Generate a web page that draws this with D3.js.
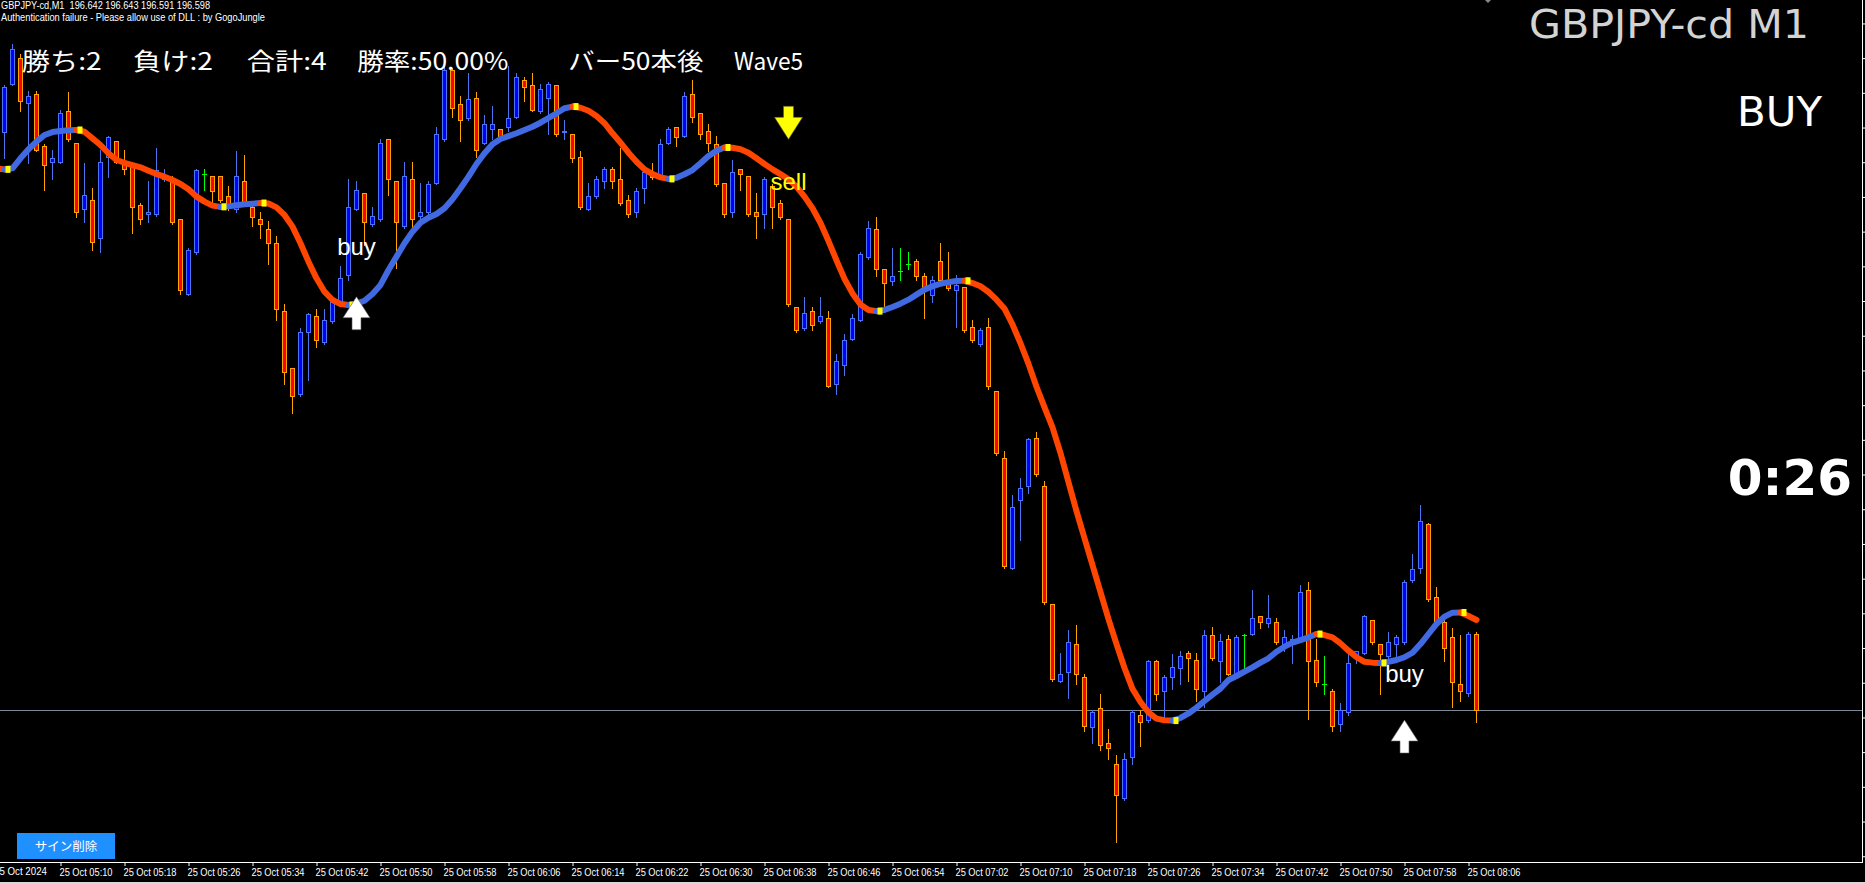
<!DOCTYPE html>
<html><head><meta charset="utf-8">
<script src="https://cdn.jsdelivr.net/npm/d3@7"></script>
<style>
html,body{margin:0;padding:0;background:#000;overflow:hidden;}
svg{display:block;}
</style></head><body>
<svg id="c" width="1865" height="884"></svg>
<script>
// ---------------- DATA ----------------
const symbol = "GBPJPY-cd";
const period = "M1";
const firstBarTime = "05:03";
const dateLabel = "25 Oct 2024";

const open = [196.931,196.959,196.974,196.948,196.953,196.923,196.914,196.914,196.943,196.925,
196.887,196.892,196.870,196.917,196.926,196.913,196.912,196.889,196.884,196.884,
196.904,196.904,196.881,196.838,196.862,196.907,196.906,196.906,196.894,196.887,
196.903,196.888,196.881,196.875,196.867,196.828,196.795,196.780,196.816,196.825,
196.810,196.822,196.834,196.849,196.887,196.896,196.878,196.881,196.927,196.903,
196.877,196.904,196.883,196.885,196.902,196.927,196.967,196.947,196.939,196.951,
196.925,196.933,196.933,196.934,196.940,196.961,196.958,196.943,196.951,196.958,
196.931,196.930,196.917,196.887,196.894,196.903,196.910,196.904,196.892,196.885,
196.899,196.908,196.905,196.925,196.934,196.929,196.953,196.942,196.932,196.924,
196.902,196.885,196.910,196.906,196.885,196.884,196.900,196.890,196.881,196.830,
196.818,196.828,196.822,196.824,196.786,196.797,196.812,196.823,196.859,196.875,
196.852,196.845,196.851,196.855,196.857,196.848,196.837,196.857,196.845,196.840,
196.842,196.819,196.809,196.819,196.782,196.743,196.680,196.719,196.727,196.755,
196.727,196.659,196.615,196.620,196.636,196.617,196.588,196.599,196.579,196.567,
196.547,196.571,196.595,196.592,196.626,196.609,196.617,196.622,196.631,196.627,
196.609,196.641,196.626,196.639,196.619,196.641,196.642,196.652,196.648,196.649,
196.636,196.638,196.639,196.667,196.627,196.613,196.609,196.590,196.597,196.629,
196.631,196.650,196.636,196.629,196.636,196.637,196.673,196.680,196.705,196.663,
196.649,196.640,196.613,196.608,196.642];

const high = [196.958,196.982,196.976,196.955,196.955,196.924,196.921,196.944,196.954,196.925,
196.913,196.899,196.921,196.929,196.926,196.921,196.914,196.890,196.903,196.922,
196.910,196.906,196.881,196.864,196.910,196.910,196.906,196.906,196.900,196.920,
196.918,196.890,196.885,196.880,196.871,196.832,196.795,196.818,196.827,196.829,
196.829,196.834,196.854,196.904,196.903,196.896,196.888,196.927,196.927,196.903,
196.914,196.914,196.902,196.903,196.934,196.969,196.968,196.952,196.965,196.954,
196.941,196.946,196.933,196.969,196.965,196.963,196.965,196.959,196.960,196.958,
196.938,196.930,196.920,196.902,196.906,196.911,196.911,196.922,196.895,196.899,
196.909,196.913,196.927,196.934,196.934,196.954,196.961,196.942,196.936,196.929,
196.902,196.915,196.910,196.906,196.896,196.905,196.901,196.892,196.881,196.830,
196.836,196.830,196.836,196.828,196.803,196.815,196.826,196.862,196.880,196.882,
196.852,196.864,196.864,196.862,196.858,196.850,196.848,196.867,196.862,196.849,
196.842,196.823,196.818,196.824,196.782,196.747,196.722,196.732,196.755,196.758,
196.730,196.659,196.631,196.644,196.647,196.619,196.598,196.607,196.587,196.572,
196.573,196.598,196.598,196.627,196.627,196.618,196.630,196.632,196.632,196.631,
196.644,196.646,196.642,196.641,196.641,196.642,196.667,196.652,196.664,196.651,
196.644,196.641,196.670,196.672,196.639,196.629,196.610,196.602,196.631,196.632,
196.653,196.650,196.636,196.643,196.641,196.673,196.688,196.716,196.706,196.669,
196.652,196.645,196.641,196.643,196.643];

const low = [196.916,196.958,196.943,196.913,196.920,196.898,196.904,196.913,196.926,196.882,
196.879,196.863,196.862,196.905,196.913,196.907,196.873,196.878,196.879,196.883,
196.903,196.878,196.838,196.837,196.861,196.898,196.890,196.891,196.886,196.885,
196.889,196.877,196.870,196.855,196.823,196.786,196.769,196.779,196.788,196.807,
196.809,196.821,196.833,196.846,196.886,196.866,196.877,196.880,196.895,196.853,
196.876,196.876,196.878,196.884,196.901,196.926,196.940,196.926,196.938,196.917,
196.924,196.927,196.926,196.932,196.939,196.949,196.943,196.942,196.930,196.929,
196.927,196.914,196.887,196.886,196.893,196.899,196.899,196.889,196.882,196.882,
196.890,196.904,196.904,196.924,196.923,196.928,196.937,196.927,196.920,196.900,
196.882,196.882,196.898,196.883,196.870,196.876,196.876,196.881,196.831,196.816,
196.817,196.817,196.821,196.784,196.780,196.791,196.811,196.822,196.858,196.848,
196.831,196.843,196.846,196.852,196.846,196.824,196.833,196.845,196.840,196.819,
196.816,196.810,196.808,196.783,196.745,196.680,196.679,196.696,196.723,196.733,
196.659,196.615,196.614,196.605,196.613,196.586,196.579,196.575,196.570,196.522,
196.546,196.567,196.577,196.591,196.604,196.594,196.610,196.613,196.615,196.603,
196.600,196.627,196.614,196.618,196.618,196.621,196.641,196.645,196.646,196.636,
196.632,196.625,196.638,196.593,196.612,196.607,196.586,196.586,196.595,196.625,
196.630,196.636,196.607,196.628,196.629,196.636,196.672,196.677,196.661,196.647,
196.626,196.600,196.603,196.606,196.591];

const close = [196.957,196.979,196.949,196.952,196.921,196.912,196.916,196.942,196.927,196.885,
196.895,196.868,196.914,196.928,196.914,196.910,196.888,196.881,196.885,196.909,
196.905,196.879,196.840,196.863,196.909,196.907,196.897,196.892,196.889,196.906,
196.890,196.882,196.878,196.867,196.829,196.793,196.779,196.816,196.826,196.811,
196.823,196.833,196.847,196.888,196.898,196.879,196.883,196.925,196.904,196.879,
196.906,196.881,196.885,196.901,196.930,196.967,196.945,196.938,196.950,196.921,
196.936,196.936,196.928,196.939,196.963,196.957,196.944,196.956,196.959,196.930,
196.932,196.916,196.888,196.894,196.904,196.910,196.903,196.890,196.884,196.897,
196.908,196.905,196.924,196.933,196.928,196.952,196.940,196.930,196.925,196.901,
196.884,196.908,196.907,196.884,196.883,196.904,196.888,196.882,196.832,196.817,
196.827,196.820,196.825,196.785,196.799,196.811,196.824,196.861,196.876,196.852,
196.844,196.848,196.851,196.855,196.848,196.842,196.846,196.846,196.841,196.843,
196.817,196.811,196.817,196.785,196.746,196.681,196.715,196.726,196.754,196.734,
196.660,196.616,196.619,196.637,196.619,196.589,196.597,196.578,196.576,196.549,
196.570,196.597,196.591,196.626,196.607,196.617,196.623,196.629,196.628,196.610,
196.641,196.628,196.638,196.619,196.640,196.641,196.651,196.649,196.651,196.637,
196.640,196.639,196.666,196.626,196.614,196.613,196.589,196.598,196.625,196.632,
196.652,196.637,196.630,196.637,196.640,196.672,196.679,196.707,196.662,196.648,
196.634,196.614,196.609,196.642,196.598];

// trend line (first value belongs to the bar before bar 0)
const lineStartBar = -1;
const trendLine = [196.9101,196.9096,196.9102,196.9160,196.9212,196.9256,196.9294,196.9311,196.9317,196.9321,196.9323,
196.9313,196.9275,196.9236,196.9189,196.9150,196.9134,196.9121,196.9108,196.9088,196.9069,
196.9054,196.9035,196.9012,196.8981,196.8939,196.8910,196.8887,196.8880,196.8883,196.8889,
196.8895,196.8898,196.8902,196.8899,196.8877,196.8833,196.8766,196.8670,196.8564,196.8468,
196.8391,196.8343,196.8320,196.8314,196.8322,196.8339,196.8378,196.8430,196.8516,196.8593,
196.8670,196.8737,196.8789,196.8817,196.8839,196.8872,196.8924,196.8987,196.9054,196.9127,
196.9189,196.9241,196.9271,196.9288,196.9304,196.9323,196.9342,196.9365,196.9392,196.9419,
196.9448,196.9458,196.9451,196.9434,196.9404,196.9362,196.9304,196.9250,196.9192,196.9140,
196.9096,196.9069,196.9050,196.9041,196.9048,196.9068,196.9092,196.9131,196.9173,196.9204,
196.9222,196.9221,196.9212,196.9192,196.9160,196.9127,196.9096,196.9069,196.9039,196.8996,
196.8939,196.8872,196.8787,196.8683,196.8572,196.8465,196.8381,196.8317,196.8286,196.8279,
196.8286,196.8303,196.8322,196.8345,196.8374,196.8403,196.8422,196.8437,196.8446,196.8453,
196.8454,196.8441,196.8422,196.8389,196.8345,196.8293,196.8202,196.8094,196.7975,196.7843,
196.7724,196.7609,196.7461,196.7293,196.7126,196.6970,196.6815,196.6660,196.6504,196.6360,
196.6222,196.6102,196.6026,196.5966,196.5930,196.5921,196.5919,196.5934,196.5960,196.5994,
196.6032,196.6069,196.6104,196.6153,196.6176,196.6201,196.6226,196.6253,196.6278,196.6316,
196.6345,196.6368,196.6383,196.6399,196.6418,196.6412,196.6399,196.6364,196.6322,196.6284,
196.6258,196.6253,196.6251,196.6258,196.6268,196.6284,196.6310,196.6360,196.6418,196.6476,
196.6518,196.6541,196.6542,196.6522,196.6499];

const tickTimes = ["05:10","05:18","05:26","05:34","05:42","05:50","05:58","06:06","06:14","06:22",
"06:30","06:38","06:46","06:54","07:02","07:10","07:18","07:26","07:34","07:42","07:50","07:58","08:06"];

const priceTicks = [196.994,196.974,196.954,196.934,196.914,196.894,196.874,196.854,196.834,196.814,
196.794,196.774,196.754,196.734,196.714,196.694,196.674,196.654,196.634,196.614,196.594,196.574,196.554,196.534,196.514];

const signalBars = [44, 98, 175];
const signalTypes = ["buy", "sell", "buy"];
const signalArrowPrices = [196.8362, 196.9269, 196.5922];
const signalTextPrices = [196.8603, 196.8977, 196.6143];

const statTexts = ["勝ち:2","負け:2","合計:4","勝率:50.00%","バー50本後","Wave5"];
const headerNote = "Authentication failure - Please allow use of DLL : by GogoJungle";
const signalState = "BUY";
const countdown = "0:26";
const buttonLabel = "サイン削除";

// ---------------- DRAW ----------------
const W = 1865, H = 884, plotRight = 1862, plotBottom = 862;
const svg = d3.select("#c");
svg.append("rect").attr("width", W).attr("height", H).attr("fill", "#000");
svg.append("rect").attr("x", 0).attr("y", 882).attr("width", W).attr("height", 2).attr("fill", "#d8d8d8");

const nBars = open.length;
const lastClose = close[nBars - 1];
const pxPerPrice = 1735;
const x = d3.scaleLinear().domain([0, nBars - 1]).range([4, 4 + 8 * (nBars - 1)]);
const y = d3.scaleLinear()
  .domain([lastClose + 710 / pxPerPrice, lastClose - (plotBottom - 710) / pxPerPrice])
  .range([0, plotBottom]);

// bid line
svg.append("line").attr("x1", 0).attr("x2", plotRight).attr("y1", Math.round(y(lastClose)) + 0.5)
  .attr("y2", Math.round(y(lastClose)) + 0.5).attr("stroke", "#7d8a99").attr("stroke-width", 1);

// candles
const gC = svg.append("g").attr("shape-rendering", "crispEdges");
const bullEdge = "#4a74f0", bullFill = "#0000ff", bearEdge = "#ffa500", bearFill = "#ff0000", dojiCol = "#00ff00";
for (let i = 0; i < nBars; i++) {
  const cx = Math.round(x(i));
  const o = open[i], c = close[i], h = high[i], l = low[i];
  const yh = Math.round(y(h)), yl = Math.round(y(l));
  let edge, fill;
  if (c > o) { edge = bullEdge; fill = bullFill; }
  else if (c < o) { edge = bearEdge; fill = bearFill; }
  else { edge = dojiCol; fill = null; }
  gC.append("rect").attr("x", cx).attr("y", yh).attr("width", 1).attr("height", Math.max(1, yl - yh + 1)).attr("fill", edge);
  if (fill === null) {
    gC.append("rect").attr("x", cx - 2).attr("y", Math.round(y(o))).attr("width", 5).attr("height", 1).attr("fill", edge);
  } else {
    const yt = Math.round(y(Math.max(o, c))), yb = Math.round(y(Math.min(o, c)));
    gC.append("rect").attr("x", cx - 2).attr("y", yt).attr("width", 5).attr("height", Math.max(1, yb - yt + 1)).attr("fill", edge);
    if (yb - yt - 1 > 0)
      gC.append("rect").attr("x", cx - 1).attr("y", yt + 1).attr("width", 3).attr("height", yb - yt - 1).attr("fill", fill);
  }
}

// trend line, coloured by direction
const upCol = "#4169e1", dnCol = "#ff4500";
const lx = j => x(j + lineStartBar) + 0.5;
const ly = j => y(trendLine[j]);
const gL = svg.append("g");
const lineGen = d3.line().x(j => lx(j)).y(j => ly(j));
let runStart = 0;
const dirOf = j => trendLine[j + 1] > trendLine[j] ? 1 : -1;
for (let j = 1; j <= trendLine.length - 1; j++) {
  if (j === trendLine.length - 1 || dirOf(j) !== dirOf(runStart)) {
    const idx = d3.range(runStart, j + 1);
    gL.append("path").attr("d", lineGen(idx)).attr("fill", "none")
      .attr("stroke", dirOf(runStart) > 0 ? upCol : dnCol).attr("stroke-width", 6)
      .attr("stroke-linejoin", "round").attr("stroke-linecap", "round");
    runStart = j;
  }
}
// turning markers
for (let j = 1; j < trendLine.length - 1; j++) {
  if (dirOf(j) !== dirOf(j - 1)) {
    gL.append("rect").attr("x", lx(j) + 1).attr("y", ly(j) - 3.5).attr("width", 5).attr("height", 7).attr("fill", "#ffff00");
  }
}

// signals
const gS = svg.append("g");
signalBars.forEach((b, k) => {
  const cx = x(b) + 0.5;
  const ty = y(signalArrowPrices[k]);
  let pts, col;
  if (signalTypes[k] === "buy") {
    col = "#ffffff";
    pts = [[cx, ty], [cx + 13.5, ty + 21], [cx + 4.5, ty + 21], [cx + 4.5, ty + 33], [cx - 4.5, ty + 33], [cx - 4.5, ty + 21], [cx - 13.5, ty + 21]];
  } else {
    col = "#ffff00";
    pts = [[cx, ty], [cx + 14, ty - 22], [cx + 5, ty - 22], [cx + 5, ty - 33], [cx - 5, ty - 33], [cx - 5, ty - 22], [cx - 14, ty - 22]];
  }
  gS.append("path").attr("d", "M" + pts.map(p => p.join(",")).join("L") + "Z").attr("fill", col)
    .attr("stroke", "#555").attr("stroke-width", 0.6);
  gS.append("text").attr("x", cx).attr("y", y(signalTextPrices[k])).attr("text-anchor", "middle")
    .attr("font-family", "'Liberation Sans', Arial, sans-serif").attr("font-size", 24)
    .attr("fill", col).text(signalTypes[k]);
});

// x axis
const toMin = t => { const [h, m] = t.split(":").map(Number); return h * 60 + m; };
const tickBars = tickTimes.map(t => toMin(t) - toMin(firstBarTime));
const ax = d3.axisBottom(x).tickValues(tickBars).tickSize(4).tickPadding(3)
  .tickFormat((d, i) => "25 Oct " + tickTimes[i]);
const gA = svg.append("g").attr("transform", `translate(0.5,${plotBottom})`).call(ax);
gA.select(".domain").remove();
gA.selectAll(".tick line").attr("stroke", "#fff");
gA.selectAll(".tick text").attr("fill", "#fff").attr("text-anchor", "start").attr("dx", -1.5)
  .attr("font-family", "'Liberation Sans', Arial, sans-serif").attr("font-size", 10.5)
  .attr("textLength", 53).attr("lengthAdjust", "spacingAndGlyphs");
svg.append("text").attr("x", -6).attr("y", 875).attr("fill", "#fff")
  .attr("font-family", "'Liberation Sans', Arial, sans-serif").attr("font-size", 10.5)
  .attr("textLength", 53).attr("lengthAdjust", "spacingAndGlyphs").text(dateLabel);
svg.append("line").attr("x1", 0).attr("x2", plotRight + 1).attr("y1", plotBottom + 0.5).attr("y2", plotBottom + 0.5)
  .attr("stroke", "#fff");
svg.append("line").attr("x1", plotRight + 0.5).attr("x2", plotRight + 0.5).attr("y1", 0).attr("y2", plotBottom + 1)
  .attr("stroke", "#fff");
// price scale ticks (labels are off-screen)
const ay = d3.axisRight(y).tickValues(priceTicks).tickSize(3).tickFormat("");
const gY = svg.append("g").attr("transform", `translate(${plotRight + 0.5},0.5)`).call(ay);
gY.select(".domain").remove();
gY.selectAll(".tick line").attr("stroke", "#fff");

// header texts
const lastStr = [open, high, low, close].map(a => a[nBars - 1].toFixed(3)).join(" ");
svg.append("text").attr("x", 1).attr("y", 9).attr("fill", "#fff").style("white-space", "pre")
  .attr("font-family", "'Liberation Sans', Arial, sans-serif").attr("font-size", 10.5)
  .attr("textLength", 209).attr("lengthAdjust", "spacingAndGlyphs")
  .text(`${symbol},${period}  ${lastStr}`);
svg.append("text").attr("x", 1).attr("y", 21).attr("fill", "#fff")
  .attr("font-family", "'Liberation Sans', Arial, sans-serif").attr("font-size", 10.5)
  .attr("textLength", 264).attr("lengthAdjust", "spacingAndGlyphs").text(headerNote);

// stats line
const statX = [21.7, 133, 246.7, 357.3, 568.3, 734];
const statW = [80, 80, 80, 151, 135, 69];
statTexts.forEach((t, k) => {
  svg.append("text").attr("x", statX[k]).attr("y", 70).attr("fill", "#fff")
    .attr("font-family", "'Noto Sans CJK JP', sans-serif").attr("font-size", 24)
    .attr("textLength", statW[k]).attr("lengthAdjust", "spacingAndGlyphs").text(t);
});

// right side texts
svg.append("text").attr("x", 1529).attr("y", 38).attr("fill", "#d3d3d3")
  .attr("font-family", "'DejaVu Sans', Verdana, sans-serif").attr("font-size", 39)
  .attr("textLength", 280).attr("lengthAdjust", "spacingAndGlyphs").text(`${symbol} ${period}`);
svg.append("text").attr("x", 1737).attr("y", 126).attr("fill", "#fff")
  .attr("font-family", "'DejaVu Sans', Verdana, sans-serif").attr("font-size", 40)
  .attr("textLength", 85).attr("lengthAdjust", "spacingAndGlyphs").text(signalState);
svg.append("text").attr("x", 1852).attr("y", 495).attr("fill", "#fff").attr("text-anchor", "end")
  .attr("font-family", "'DejaVu Sans', Verdana, sans-serif").attr("font-weight", "bold").attr("font-size", 50)
  .text(countdown);
// small marker at top
svg.append("path").attr("d", "M1485,0L1491,0L1488,3Z").attr("fill", "#888");

// button
svg.append("rect").attr("x", 17).attr("y", 833).attr("width", 98).attr("height", 26).attr("fill", "#1e90ff");
svg.append("text").attr("x", 66).attr("y", 851).attr("text-anchor", "middle").attr("fill", "#fff")
  .attr("font-family", "'Noto Sans CJK JP', sans-serif").attr("font-size", 12.5).text(buttonLabel);
</script>
</body></html>
